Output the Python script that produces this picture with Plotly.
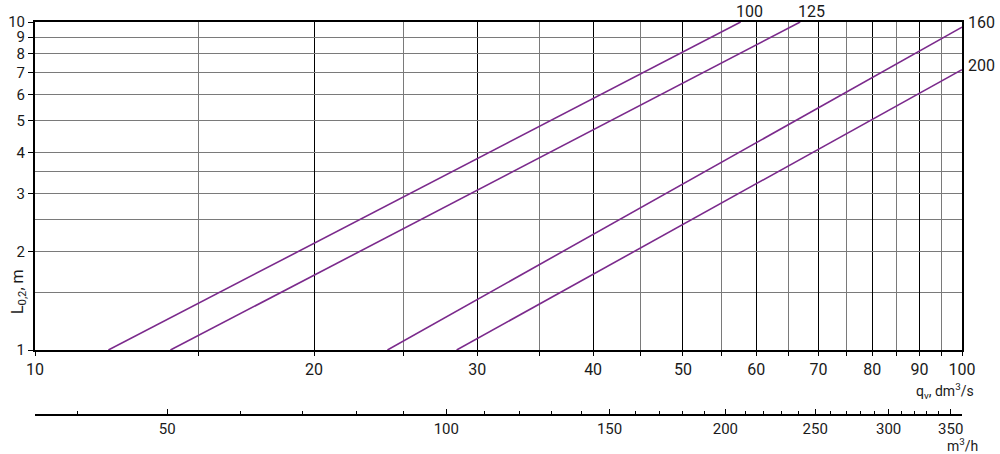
import math
import plotly.graph_objects as go

# ---- data ----
series_names = ["100", "125", "160", "200"]
q_start = [12.0, 14.0, 24.0, 28.5]      # dm3/s
L_start = [1.0, 1.0, 1.0, 1.0]          # m
q_end = [57.7, 66.9, 100.0, 100.0]      # dm3/s
L_end = [10.0, 10.0, 9.65, 7.16]        # m

x_ticks = [10, 20, 30, 40, 50, 60, 70, 80, 90, 100]
x_minor = [15, 25, 35, 45, 55, 65, 75, 85, 95]
y_ticks = [1, 2, 3, 4, 5, 6, 7, 8, 9, 10]
y_minor = [1.5, 2.5, 3.5]
m3h_ticks = [50, 100, 150, 200, 250, 300, 350]
m3h_minor = [v for v in range(40, 361, 10) if v % 50 != 0]
m3h_range = [36, 360]

# ---- layout geometry (page pixels) ----
W, H = 1000, 454
PLOT_L, PLOT_R, PLOT_T, PLOT_B = 35, 962, 22, 350
AX2_Y = 415          # secondary axis line
L_M = PLOT_L
R_M = W - PLOT_R
T_M = PLOT_T
B_M = H - AX2_Y
paper_h = AX2_Y - PLOT_T
y_dom0 = (AX2_Y - PLOT_B) / paper_h

FONT = "Roboto"
TXT = "#1a1a1a"
PURPLE = "#7b2a8c"
GRID = "#7a7a7a"

fig = go.Figure()
for name, qs, ls, qe, le in zip(series_names, q_start, L_start, q_end, L_end):
    fig.add_trace(go.Scatter(x=[qs, qe], y=[ls, le], mode="lines",
                             line=dict(color=PURPLE, width=1.6),
                             name=name, showlegend=False, hoverinfo="skip"))

# invisible trace so the secondary axis is bound to a trace
fig.add_trace(go.Scatter(x=m3h_range, y=[1, 1], xaxis="x2", yaxis="y",
                         mode="none", showlegend=False, hoverinfo="skip"))

fig.update_layout(
    width=W, height=H,
    margin=dict(l=L_M, r=R_M, t=T_M, b=B_M, autoexpand=False),
    paper_bgcolor="white", plot_bgcolor="white",
    font=dict(family=FONT, color=TXT, size=16),
    xaxis=dict(
        type="log", range=[1, 2], automargin=False,
        tickvals=x_ticks, ticktext=[str(v) for v in x_ticks],
        showgrid=True, gridcolor="#000000", gridwidth=1,
        ticks="outside", ticklen=4, tickcolor="#000", tickwidth=1,
        showline=True, linecolor="#000", linewidth=2, mirror=True,
        tickfont=dict(size=16, family=FONT, color=TXT),
        minor=dict(tickvals=x_minor, showgrid=True, gridcolor=GRID, gridwidth=1,
                   ticks="outside", ticklen=4, tickcolor="#000"),
        zeroline=False,
    ),
    yaxis=dict(
        type="log", range=[0, 1], domain=[y_dom0, 1], automargin=False,
        tickvals=y_ticks, ticktext=[str(v) for v in y_ticks],
        showgrid=True, gridcolor=GRID, gridwidth=1,
        ticks="outside", ticklen=5, tickcolor="#000", tickwidth=1,
        showline=True, linecolor="#000", linewidth=2, mirror=True,
        tickfont=dict(size=15, family=FONT, color=TXT),
        minor=dict(tickvals=y_minor, showgrid=True, gridcolor=GRID, gridwidth=1,
                   ticks=""),
        zeroline=False,
    ),
    xaxis2=dict(
        type="log", range=[math.log10(m3h_range[0]), math.log10(m3h_range[1])],
        overlaying="x", anchor="free", position=0, side="bottom", automargin=False,
        tickvals=m3h_ticks, ticktext=[str(v) for v in m3h_ticks],
        ticks="inside", ticklen=5, tickcolor="#000", tickwidth=1,
        showline=True, linecolor="#000", linewidth=1.5,
        showgrid=False, zeroline=False,
        tickfont=dict(size=15, family=FONT, color=TXT),
        minor=dict(tickvals=m3h_minor, ticks="inside", ticklen=3,
                   tickcolor="#000", showgrid=False),
    ),
)

def px_x(px):
    return (px - PLOT_L) / (PLOT_R - PLOT_L)

def px_y(py):
    return (AX2_Y - py) / paper_h

ann = []
# series labels
label_shift = {"100": (9, 11), "125": (11, 11), "160": (4, 5), "200": (4, 4)}
for name, qe, le in zip(series_names, q_end, L_end):
    dx, dy = label_shift[name]
    at_right = qe >= 100
    ann.append(dict(x=math.log10(qe), y=math.log10(le), xref="x", yref="y",
                    text=name, showarrow=False,
                    xanchor="left" if at_right else "center", yanchor="middle",
                    xshift=dx, yshift=dy,
                    font=dict(size=16, family=FONT, color=TXT)))

ann.append(dict(x=px_x(976), y=px_y(391), xref="paper", yref="paper",
                text="q<sub>v</sub>, dm<sup>3</sup>/s", showarrow=False,
                xanchor="right", yanchor="middle",
                font=dict(size=14, family=FONT, color=TXT)))
ann.append(dict(x=px_x(980), y=px_y(445), xref="paper", yref="paper",
                text="m<sup>3</sup>/h", showarrow=False,
                xanchor="right", yanchor="middle",
                font=dict(size=14, family=FONT, color=TXT)))
ann.append(dict(x=px_x(18), y=px_y(292), xref="paper", yref="paper",
                text="L<sub>0,2</sub>, m", showarrow=False, textangle=-90,
                xanchor="center", yanchor="middle",
                font=dict(size=16, family=FONT, color=TXT)))
fig.update_layout(annotations=ann)

fig.write_html("out.html",
               config={"displayModeBar": False},
               post_script="document.body.style.margin='0px';")
